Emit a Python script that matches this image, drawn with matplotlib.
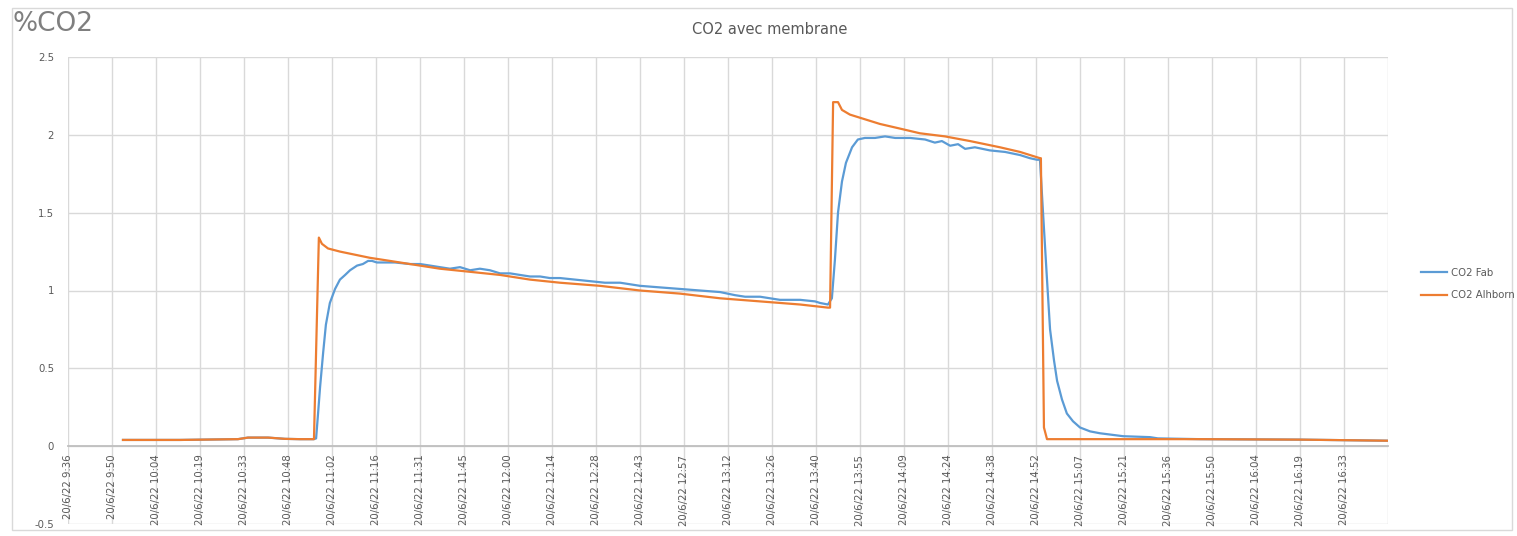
import matplotlib.pyplot as plt
from matplotlib.patches import Rectangle
from matplotlib.ticker import FixedLocator

START_MIN = 9 * 60 + 36   # axis starts 20/6/22 9:36
STEP_MIN = 14.4           # Excel major unit (0.01 day)
N_TICKS = 30

# elapsed minutes since 9:36, %CO2
t_fab = [18.0, 36.65, 55.6, 58.9, 65.5, 71.0, 75.9, 80.5, 81.2, 81.8, 82.5, 83.5,
         84.4, 85.7, 87.4, 89.0, 90.7, 92.3, 94.6, 96.5, 98.2, 99.5, 101.1, 103.7,
         107.0, 111.9, 115.2, 118.5, 121.7, 125.0, 128.3, 131.6, 134.8, 138.1,
         141.4, 144.7, 147.9, 151.2, 154.5, 157.7, 161.0, 165.9, 170.8, 175.7,
         180.7, 187.2, 193.7, 200.3, 206.8, 213.4, 218.3, 221.6, 226.5, 233.0,
         239.6, 244.5, 246.1, 248.7, 250.0, 251.0, 252.0, 253.3, 254.6, 256.6,
         258.5, 260.8, 264.1, 267.4, 270.7, 275.6, 280.5, 283.7, 286.0, 288.7,
         291.3, 293.6, 296.8, 301.7, 306.7, 311.6, 314.8, 317.1, 318.1, 319.1,
         320.4, 321.4, 322.7, 323.7, 325.3, 326.9, 328.9, 331.2, 334.5, 337.7,
         345.3, 354.1, 356.7, 370.5, 403.2, 432.0]
co2_fab = [0.04, 0.04, 0.045, 0.055, 0.055, 0.047, 0.045, 0.045, 0.05, 0.2, 0.38, 0.6,
           0.78, 0.92, 1.01, 1.07, 1.10, 1.13, 1.16, 1.17, 1.19, 1.19, 1.18, 1.18,
           1.18, 1.17, 1.17, 1.16, 1.15, 1.14, 1.15, 1.13, 1.14, 1.13,
           1.11, 1.11, 1.10, 1.09, 1.09, 1.08, 1.08, 1.07, 1.06, 1.05,
           1.05, 1.03, 1.02, 1.01, 1.00, 0.99, 0.97, 0.96, 0.96, 0.94,
           0.94, 0.93, 0.92, 0.91, 0.95, 1.2, 1.5, 1.7, 1.82, 1.92,
           1.97, 1.98, 1.98, 1.99, 1.98, 1.98, 1.97, 1.95, 1.96, 1.93,
           1.94, 1.91, 1.92, 1.90, 1.89, 1.87, 1.85, 1.84, 1.84, 1.5,
           1.07, 0.75, 0.55, 0.42, 0.3, 0.21, 0.16, 0.12, 0.095, 0.083,
           0.064, 0.058, 0.05, 0.045, 0.042, 0.035]

t_alh = [18.0, 36.65, 55.6, 58.9, 65.5, 71.0, 75.9, 80.5, 82.1, 83.1, 85.1, 89.0,
         93.9, 98.8, 105.4, 111.9, 121.7, 131.6, 141.4, 151.2, 161.0, 174.1,
         187.2, 200.3, 213.4, 226.5, 239.6, 248.7, 249.4, 250.4, 252.0, 253.3,
         255.9, 260.8, 265.7, 272.3, 278.8, 287.0, 295.2, 305.0, 311.6, 318.1,
         318.4, 319.4, 320.4, 337.7, 370.5, 403.2, 432.0]
co2_alh = [0.04, 0.04, 0.045, 0.055, 0.055, 0.047, 0.045, 0.045, 1.34, 1.30, 1.27, 1.25,
           1.23, 1.21, 1.19, 1.17, 1.14, 1.12, 1.10, 1.07, 1.05, 1.03,
           1.00, 0.98, 0.95, 0.93, 0.91, 0.89, 0.89, 2.21, 2.21, 2.16,
           2.13, 2.10, 2.07, 2.04, 2.01, 1.99, 1.96, 1.92, 1.89, 1.85,
           1.85, 0.12, 0.045, 0.045, 0.045, 0.042, 0.035]

BLUE = '#5b9bd5'
ORANGE = '#ed7d31'
GRID = '#d9d9d9'
TXT = '#595959'
FS = 7.3

fig = plt.figure(figsize=(15.17, 5.36), dpi=100)
fig.patches.append(Rectangle((12 / 1517, 6 / 536), 1500 / 1517, 522 / 536,
                             transform=fig.transFigure, fill=False,
                             edgecolor=GRID, lw=1.0))
ax = fig.add_axes([68 / 1517, 12 / 536, 1320 / 1517, 467 / 536])

ax.plot([START_MIN + t for t in t_fab], co2_fab, color=BLUE, lw=1.6, label='CO2 Fab')
ax.plot([START_MIN + t for t in t_alh], co2_alh, color=ORANGE, lw=1.6, label='CO2 Alhborn')

ax.set_xlim(START_MIN, START_MIN + N_TICKS * STEP_MIN)
ax.set_ylim(-0.5, 2.5)

# zero axis line (set before tick labels: set_position resets ticks)
for s in ['left', 'right', 'top']:
    ax.spines[s].set_visible(False)
ax.spines['bottom'].set_position(('data', 0))
ax.spines['bottom'].set_color('#bfbfbf')
ax.spines['bottom'].set_linewidth(1.3)

ticks = [START_MIN + k * STEP_MIN for k in range(N_TICKS)]
labels = []
for v in ticks:
    h = int(v // 60)
    m = int(v % 60 + 1e-6)
    labels.append('20/6/22 %d:%02d' % (h, m))
ax.xaxis.set_major_locator(FixedLocator(ticks))
ax.set_xticklabels(labels, fontsize=FS, color=TXT)
ax.tick_params(axis='x', length=0, pad=6, labelrotation=90)
ax.set_yticks([-0.5, 0, 0.5, 1, 1.5, 2, 2.5])
ax.set_yticklabels(['-0.5', '0', '0.5', '1', '1.5', '2', '2.5'], fontsize=FS, color=TXT)
ax.tick_params(axis='y', length=0, pad=10)

# vertical grid lines incl. right edge
for v in ticks + [START_MIN + N_TICKS * STEP_MIN]:
    ax.axvline(v, color=GRID, lw=1.0, zorder=0)
ax.grid(axis='y', color=GRID, lw=1.0, zorder=0)
ax.set_axisbelow(True)

fig.text(770 / 1517, 1 - 30 / 536, 'CO2 avec membrane', ha='center', va='center',
         fontsize=10.5, color=TXT)
fig.text(13 / 1517, 1 - 24 / 536, '%CO2', ha='left', va='center',
         fontsize=19, color='#7f7f7f')

fig.legend(loc='center left', bbox_to_anchor=(1412 / 1517, 1 - 284 / 536),
           frameon=False, fontsize=FS, handlelength=2.6, handletextpad=0.3,
           labelspacing=1.2, labelcolor=TXT)

fig.savefig('out.png', dpi=100)
